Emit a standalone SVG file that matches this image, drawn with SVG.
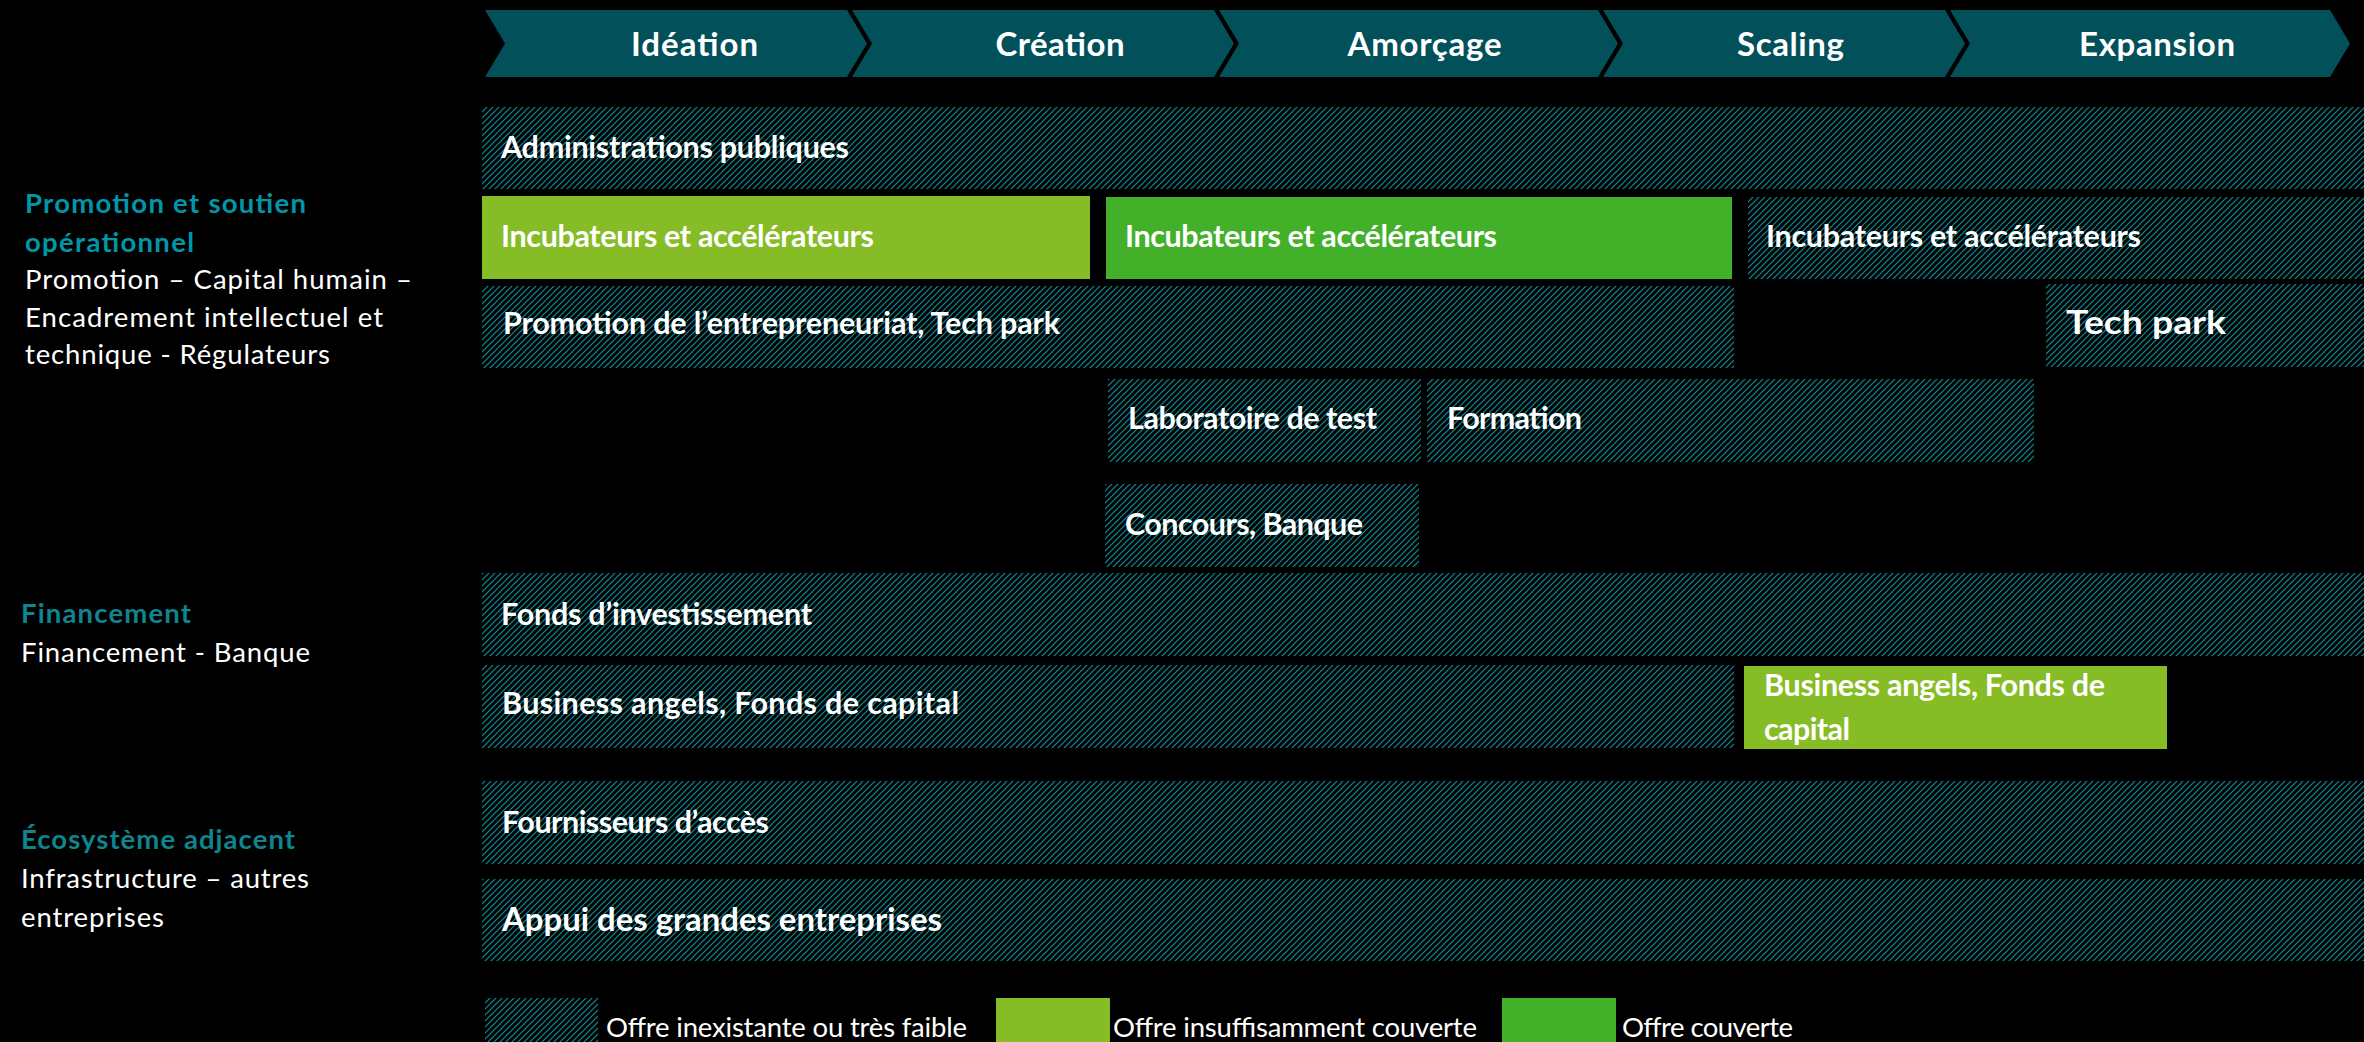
<svg xmlns="http://www.w3.org/2000/svg" width="2364" height="1042" viewBox="0 0 2364 1042">
<defs>
<pattern id="hatch" patternUnits="userSpaceOnUse" width="6" height="6">
<rect width="6" height="6" fill="#000"/>
<path d="M-1,1 l2,-2 M0,6 l6,-6 M5,7 l2,-2" stroke="#0d8d98" stroke-width="1.2"/>
</pattern>
<style>
text{font-family:Lato,"Liberation Sans",sans-serif;}
.chev{fill:#02505a;}
.ct{fill:#fff;font-weight:700;font-size:33px;}
.hat{fill:url(#hatch);}
.lg{fill:#86bc25;}
.dg{fill:#43b02a;}
.bl{fill:#fff;font-weight:700;font-size:30.5px;}
.big{font-size:32.5px;}
.h1{fill:#0097a9;font-weight:700;font-size:27.5px;}
.h2{fill:#0e858f;font-weight:700;font-size:27.5px;}
.sub{fill:#fff;font-size:27.5px;}
.leg{fill:#fff;font-size:27.5px;}
</style>
</defs>
<rect width="2364" height="1042" fill="#000"/>

<g id="phases">
<g id="phase-ideation"><polygon class="chev" points="485,10 847,10 867,43.5 847,77 485,77 505,43.5"/><text class="ct" x="631" y="56" textLength="127" lengthAdjust="spacing">Idéation</text></g>
<g id="phase-creation"><polygon class="chev" points="852,10 1214,10 1234,43.5 1214,77 852,77 872,43.5"/><text class="ct" x="995.5" y="56" textLength="129" lengthAdjust="spacing">Création</text></g>
<g id="phase-amorcage"><polygon class="chev" points="1219,10 1598,10 1618,43.5 1598,77 1219,77 1239,43.5"/><text class="ct" x="1347.5" y="56" textLength="154" lengthAdjust="spacing">Amorçage</text></g>
<g id="phase-scaling"><polygon class="chev" points="1603,10 1945,10 1965,43.5 1945,77 1603,77 1623,43.5"/><text class="ct" x="1737" y="56" textLength="107" lengthAdjust="spacing">Scaling</text></g>
<g id="phase-expansion"><polygon class="chev" points="1950,10 2330,10 2350,43.5 2330,77 1950,77 1970,43.5"/><text class="ct" x="2079" y="56" textLength="156" lengthAdjust="spacing">Expansion</text></g>
</g>

<g id="categories">
<g id="cat-promotion">
<text class="h1" x="25" y="213" textLength="281" lengthAdjust="spacing">Promotion et soutien</text>
<text class="h1" x="25" y="252" textLength="169" lengthAdjust="spacing">opérationnel</text>
<text class="sub" x="25" y="289" textLength="387" lengthAdjust="spacing">Promotion – Capital humain –</text>
<text class="sub" x="25" y="327" textLength="358" lengthAdjust="spacing">Encadrement intellectuel et</text>
<text class="sub" x="25" y="364" textLength="305" lengthAdjust="spacing">technique - Régulateurs</text>
</g>
<g id="cat-financement">
<text class="h2" x="21" y="623" textLength="170" lengthAdjust="spacing">Financement</text>
<text class="sub" x="21" y="662" textLength="289" lengthAdjust="spacing">Financement - Banque</text>
</g>
<g id="cat-ecosysteme">
<text class="h2" x="21" y="849" textLength="274" lengthAdjust="spacing">Écosystème adjacent</text>
<text class="sub" x="21" y="888" textLength="288" lengthAdjust="spacing">Infrastructure – autres</text>
<text class="sub" x="21" y="927" textLength="143" lengthAdjust="spacing">entreprises</text>
</g>
</g>

<g id="offers">
<g id="admin"><rect class="hat" x="482" y="107" width="1882" height="82"/><text class="bl" x="501" y="158" textLength="348" lengthAdjust="spacing">Administrations publiques</text></g>
<g id="incub-1"><rect class="lg" x="482" y="196" width="608" height="83"/><text class="bl" x="501" y="247" textLength="373" lengthAdjust="spacing">Incubateurs et accélérateurs</text></g>
<g id="incub-2"><rect class="dg" x="1106" y="197" width="626" height="82"/><text class="bl" x="1125" y="247" textLength="372" lengthAdjust="spacing">Incubateurs et accélérateurs</text></g>
<g id="incub-3"><rect class="hat" x="1748" y="197" width="616" height="82"/><text class="bl" x="1766" y="247" textLength="375" lengthAdjust="spacing">Incubateurs et accélérateurs</text></g>
<g id="promo-entr"><rect class="hat" x="482" y="286" width="1252" height="82"/><text class="bl" x="503" y="334" textLength="557" lengthAdjust="spacing">Promotion de l’entrepreneuriat, Tech park</text></g>
<g id="tech-park"><rect class="hat" x="2046" y="284" width="318" height="83"/><text class="bl big" x="2066" y="334" textLength="160" lengthAdjust="spacingAndGlyphs">Tech park</text></g>
<g id="labo"><rect class="hat" x="1108" y="379" width="313" height="83"/><text class="bl" x="1128" y="429" textLength="249" lengthAdjust="spacing">Laboratoire de test</text></g>
<g id="formation"><rect class="hat" x="1427" y="379" width="607" height="83"/><text class="bl" x="1447" y="429" textLength="135" lengthAdjust="spacing">Formation</text></g>
<g id="concours"><rect class="hat" x="1105" y="484" width="314" height="83"/><text class="bl" x="1125" y="535" textLength="238" lengthAdjust="spacing">Concours, Banque</text></g>
<g id="fonds-inv"><rect class="hat" x="482" y="573" width="1882" height="83"/><text class="bl" x="501" y="625" textLength="311" lengthAdjust="spacing">Fonds d’investissement</text></g>
<g id="ba-1"><rect class="hat" x="482" y="665" width="1252" height="83"/><text class="bl" x="502" y="714" textLength="457" lengthAdjust="spacing">Business angels, Fonds de capital</text></g>
<g id="ba-2"><rect class="lg" x="1744" y="666" width="423" height="83"/><text class="bl" x="1764" y="696" textLength="341" lengthAdjust="spacing">Business angels, Fonds de</text><text class="bl" x="1764" y="740" textLength="86" lengthAdjust="spacing">capital</text></g>
<g id="fournisseurs"><rect class="hat" x="482" y="781" width="1882" height="83"/><text class="bl" x="502" y="833" textLength="267" lengthAdjust="spacing">Fournisseurs d’accès</text></g>
<g id="appui"><rect class="hat" x="482" y="879" width="1882" height="82"/><text class="bl big" x="502" y="931" textLength="440" lengthAdjust="spacingAndGlyphs">Appui des grandes entreprises</text></g>
</g>

<g id="connectors"/>

<g id="legend">
<g id="leg-none"><rect class="hat" x="485" y="998" width="113" height="44"/><text class="leg" x="606" y="1037" textLength="361" lengthAdjust="spacing">Offre inexistante ou très faible</text></g>
<g id="leg-insuff"><rect class="lg" x="996" y="998" width="114" height="44"/><text class="leg" x="1113" y="1037" textLength="364" lengthAdjust="spacing">Offre insuffisamment couverte</text></g>
<g id="leg-cov"><rect class="dg" x="1502" y="998" width="114" height="44"/><text class="leg" x="1622" y="1037" textLength="171" lengthAdjust="spacing">Offre couverte</text></g>
</g>
</svg>
